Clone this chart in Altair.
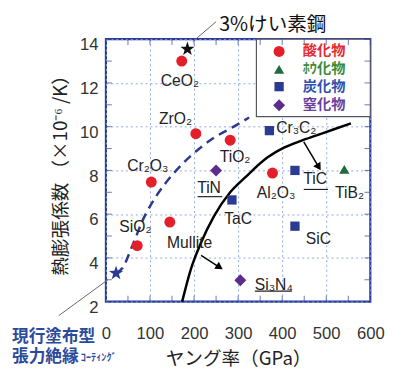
import altair as alt
import pandas as pd

# ---------------- data ----------------
mat_names = ["CeO₂", "ZrO₂", "TiO₂", "Cr₂O₃", "Al₂O₃", "Mullite", "SiO₂",
             "TiB₂", "Cr₃C₂", "TiC", "TaC", "SiC", "TiN", "Si₃N₄"]
mat_class = ["酸化物"] * 7 + ["ﾎｳ化物"] + ["炭化物"] * 4 + ["窒化物"] * 2
young = [172, 204, 282, 103, 378, 145, 71, 541, 371, 429, 286, 429, 250, 305]
cte = [13.0, 9.68, 9.38, 7.47, 7.88, 5.64, 4.56, 8.05, 9.82, 8.0, 6.65, 5.45, 8.0, 2.98]

label_x = [168, 158, 293, 95, 386, 190, 67, 553, 432, 475, 300, 482, 234, 381]
label_y = [12.1, 10.33, 8.62, 8.18, 6.95, 4.66, 5.39, 6.95, 9.93, 7.58, 5.78, 4.86, 7.17, 2.77]

underline_names = ["TiN", "TiC", "Si₃N₄"]
underline_x1 = [208, 449, 338]
underline_x2 = [264, 504, 422]
underline_y = [6.8, 7.13, 2.48]

classes = ["酸化物", "ﾎｳ化物", "炭化物", "窒化物"]
class_shapes = ["circle", "triangle-up", "square", "diamond"]
class_sizes = [125, 110, 90, 150]
class_colors = ["#e3202a", "#1f6b3c", "#2b3a93", "#5b2d8c"]
legend_text_colors = ["#e52a30", "#3a8a3a", "#3050b0", "#6a40a0"]
legend_rows = [13.44, 12.62, 11.83, 10.98]

star_names = ["3%けい素鋼", "現行塗布型張力絶縁コーティング"]
star_x = [185, 23]
star_y = [13.55, 3.3]
star_colors = ["#111111", "#2b3a93"]

dashed_x = [23, 38, 60, 86, 116, 153, 193, 245, 290, 325]
dashed_y = [3.3, 3.55, 4.56, 5.83, 6.88, 7.85, 8.67, 9.49, 10.0, 10.42]

solid_x = [173, 193, 216, 245, 282, 316, 367, 404, 441, 478, 516, 556]
solid_y = [2.0, 3.5, 4.7, 5.9, 7.0, 7.68, 8.6, 9.04, 9.34, 9.6, 9.87, 10.15]

arrow_x1 = [449, 216]
arrow_y1 = [9.31, 4.12]
arrow_x2 = [483, 258]
arrow_y2 = [8.15, 3.57]
arrow_angle = [148, 123]

leader_x1 = [197, 4.4]
leader_y1 = [13.89, 3.0]
leader_x2 = [250, -107]
leader_y2 = [14.8, 1.36]

# ---------------- tables ----------------
cls_idx = {c: i for i, c in enumerate(classes)}
pts = pd.DataFrame({
    "name": mat_names, "cls": mat_class, "x": young, "y": cte,
    "shape": [class_shapes[cls_idx[c]] for c in mat_class],
    "size": [class_sizes[cls_idx[c]] for c in mat_class],
    "color": [class_colors[cls_idx[c]] for c in mat_class],
})
labels = pd.DataFrame({"name": mat_names, "x": label_x, "y": label_y})
unders = pd.DataFrame({"name": underline_names, "x": underline_x1, "x2": underline_x2, "y": underline_y})
stars = pd.DataFrame({"name": star_names, "x": star_x, "y": star_y, "color": star_colors})
dashed = pd.DataFrame({"x": dashed_x, "y": dashed_y})
solid = pd.DataFrame({"x": solid_x, "y": solid_y})
arrows = pd.DataFrame({"x": arrow_x1, "y": arrow_y1, "x2": arrow_x2, "y2": arrow_y2, "ang": arrow_angle})
leaders = pd.DataFrame({"x": leader_x1, "y": leader_y1, "x2": leader_x2, "y2": leader_y2})
leg = pd.DataFrame({
    "cls": classes, "x": [393] * 4, "tx": [495] * 4, "y": legend_rows,
    "shape": class_shapes, "size": class_sizes, "color": class_colors,
    "tcolor": legend_text_colors,
})
leg_box = pd.DataFrame({"x": [341.5], "x2": [600], "y": [14], "y2": [10.46]})

x_minor = list(range(0, 601, 50))
y_minor = list(range(2, 15))
ticks_left = pd.DataFrame({"x": [0] * len(y_minor), "y": y_minor})
ticks_right = pd.DataFrame({"x": [600] * len(y_minor), "y": y_minor})
ticks_bottom = pd.DataFrame({"x": x_minor, "y": [2] * len(x_minor)})
ticks_top = pd.DataFrame({"x": x_minor, "y": [14] * len(x_minor)})

steel_note = pd.DataFrame({"text": ["3%けい素鋼"], "x": [257], "y": [14.66]})
coat_note = pd.DataFrame({"text": ["現行塗布型", "張力絶縁"], "x": [-213, -213], "y": [0.4, -0.52]})
coat_small = pd.DataFrame({"text": ["ｺｰﾃｨﾝｸﾞ"], "x": [-57], "y": [-0.6]})

STAR = ("M0,-1L0.235,-0.324L0.951,-0.309L0.380,0.124L0.588,0.809L0,0.4"
        "L-0.588,0.809L-0.380,0.124L-0.951,-0.309L-0.235,-0.324Z")

# ---------------- scales / axes ----------------
FRAME = "#2a3c9c"
XS = alt.Scale(domain=[0, 600], nice=False, zero=False)
YS = alt.Scale(domain=[2, 14], nice=False, zero=False)
XAX = alt.Axis(values=list(range(0, 601, 100)), title="ヤング率（GPa）", grid=True,
               gridDash=[2, 3], gridColor="#8ea8dc", gridWidth=1, domain=False,
               ticks=False, tickSize=0, labelPadding=25, labelFlush=False,
               labelOverlap=False, labelFont="Liberation Sans",
               labelFontSize=17, labelColor="#333333", titleFont="Noto Sans CJK JP",
               titleFontSize=19, titleFontWeight="normal", titleColor="#222222",
               titlePadding=8)
YAX = alt.Axis(values=list(range(2, 15, 2)), title="熱膨張係数 （×10⁻⁶ /K）", grid=True,
               gridDash=[2, 3], gridColor="#8ea8dc", gridWidth=1, domain=False,
               ticks=False, tickSize=0, labelPadding=8, labelOffset=6, labelFlush=False,
               labelOverlap=False,
               labelFont="Liberation Sans", labelFontSize=17, labelColor="#333333",
               titleFont="Noto Sans CJK JP", titleFontSize=19, titleFontWeight="normal",
               titleColor="#222222", titlePadding=9)


def X(f="x"):
    return alt.X(f, type="quantitative", scale=XS, axis=XAX)


def Y(f="y"):
    return alt.Y(f, type="quantitative", scale=YS, axis=YAX)


# ---------------- layers ----------------
box = alt.Chart(leg_box).mark_rect(fill="white", stroke="#555566", strokeWidth=1.2).encode(
    x=X(), x2="x2", y=Y(), y2="y2")

tl = alt.Chart(ticks_left).mark_tick(orient="horizontal", size=6, thickness=1, xOffset=3,
                                     color=FRAME).encode(x=X(), y=Y())
tr = alt.Chart(ticks_right).mark_tick(orient="horizontal", size=6, thickness=1, xOffset=-3,
                                      color=FRAME).encode(x=X(), y=Y())
tb = alt.Chart(ticks_bottom).mark_tick(orient="vertical", size=6, thickness=1, yOffset=-3,
                                       color=FRAME).encode(x=X(), y=Y())
tt = alt.Chart(ticks_top).mark_tick(orient="vertical", size=6, thickness=1, yOffset=3,
                                    color=FRAME).encode(x=X(), y=Y())

dash_line = alt.Chart(dashed).mark_line(color="#2b3a8f", strokeWidth=2.5, strokeDash=[9, 6],
                                        interpolate="monotone").encode(x=X(), y=Y())
solid_line = alt.Chart(solid).mark_line(color="black", strokeWidth=2.5,
                                        interpolate="monotone").encode(x=X(), y=Y())

arrow_lines = alt.Chart(arrows).mark_rule(color="black", strokeWidth=1.5).encode(
    x=X(), y=Y(), x2="x2", y2="y2")
arrow_heads = alt.Chart(arrows).mark_point(shape="triangle-up", filled=True, color="black",
                                           size=75, opacity=1).encode(
    x=X("x2"), y=Y("y2"), angle=alt.Angle("ang:Q", scale=None))

leader_lines = alt.Chart(leaders).mark_rule(color="#666666", strokeWidth=1).encode(
    x=X(), y=Y(), x2="x2", y2="y2")

points = alt.Chart(pts).mark_point(filled=True, opacity=1, strokeWidth=0).encode(
    x=X(), y=Y(),
    shape=alt.Shape("shape:N", scale=None),
    size=alt.Size("size:Q", scale=None),
    color=alt.Color("color:N", scale=None))

star_pts = alt.Chart(stars).mark_point(shape=STAR, filled=True, opacity=1, size=230,
                                       strokeWidth=0).encode(
    x=X(), y=Y(), color=alt.Color("color:N", scale=None))

label_txt = alt.Chart(labels).mark_text(font="Liberation Sans", fontSize=16, color="#222222",
                                        align="center", baseline="middle").encode(
    x=X(), y=Y(), text="name:N")

under_rules = alt.Chart(unders).mark_rule(color="#222222", strokeWidth=1.2).encode(
    x=X(), x2="x2", y=Y())

leg_pts = alt.Chart(leg).mark_point(filled=True, opacity=1, strokeWidth=0).encode(
    x=X(), y=Y(),
    shape=alt.Shape("shape:N", scale=None),
    size=alt.Size("size:Q", scale=None),
    color=alt.Color("color:N", scale=None))
leg_txt = alt.Chart(leg).mark_text(font="Noto Sans CJK JP", fontSize=14.5, fontWeight="bold",
                                   align="center", baseline="middle").encode(
    x=X("tx"), y=Y(), text="cls:N", color=alt.Color("tcolor:N", scale=None))

steel_txt = alt.Chart(steel_note).mark_text(font="Noto Sans CJK JP", fontSize=20,
                                            color="#111111", align="left",
                                            baseline="middle").encode(
    x=X(), y=Y(), text="text:N")
coat_txt = alt.Chart(coat_note).mark_text(font="Noto Sans CJK JP", fontSize=17,
                                          fontWeight="bold", color="#2b4a9c", align="left",
                                          baseline="middle").encode(
    x=X(), y=Y(), text="text:N")
coat_sm = alt.Chart(coat_small).mark_text(font="Noto Sans CJK JP", fontSize=10.5,
                                          fontWeight="bold", color="#2b4a9c",
                                          align="left", baseline="middle").encode(
    x=X(), y=Y(), text="text:N")

chart = alt.layer(
    box, tl, tr, tb, tt, dash_line, solid_line, arrow_lines, arrow_heads, leader_lines,
    points, star_pts, label_txt, under_rules, leg_pts, leg_txt, steel_txt, coat_txt, coat_sm
).properties(
    width=270, height=268,
    autosize=alt.AutoSizeParams(type="none"),
    padding={"left": 100, "top": 28, "right": 15, "bottom": 68},
    background="white",
).configure_view(stroke=FRAME, strokeWidth=2.2)

chart.save("out.html", embed_options={"renderer": "svg", "actions": False})
